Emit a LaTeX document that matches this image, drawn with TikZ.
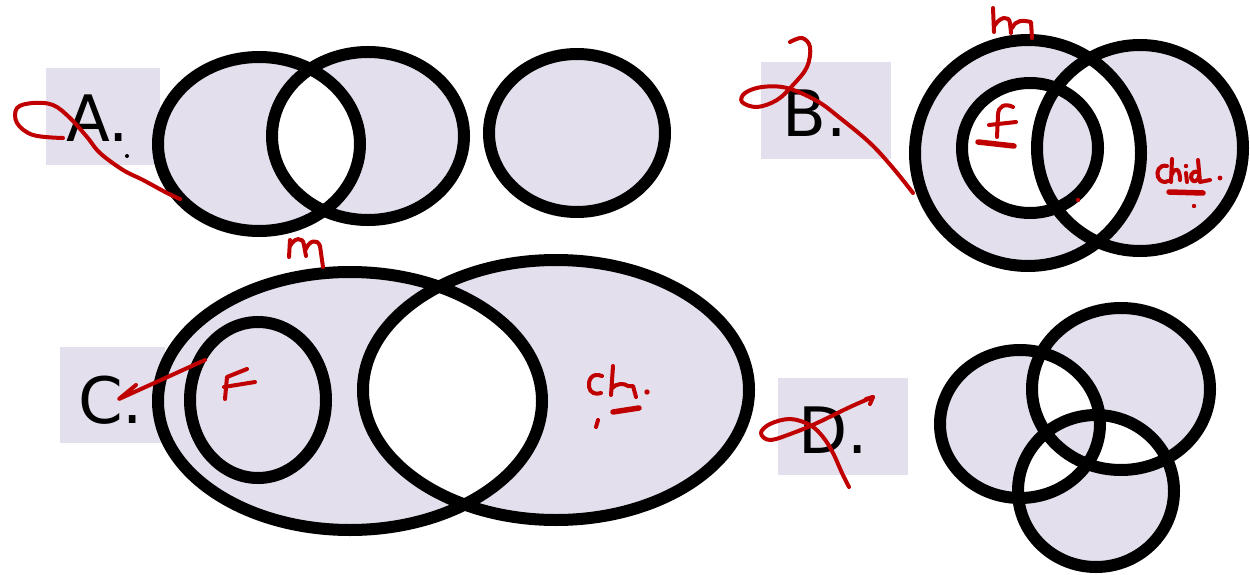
\documentclass[tikz,border=0pt]{standalone}
\usepackage{fontspec}
\setmainfont{DejaVu Sans}
\definecolor{lav}{HTML}{E4DFEC}
\definecolor{ink}{HTML}{C00000}
\begin{document}
\begin{tikzpicture}[x=1pt,y=-1pt,
  outline/.style={line width=12pt},
  shade/.style={fill=lav, even odd rule},
  labelbox/.style={fill=lav, inner sep=0pt},
  lettr/.style={anchor=base west, inner sep=0pt, font=\fontsize{64}{70}\selectfont},
  pen/.style={draw=ink, line width=4pt, line cap=round, line join=round},
  thickpen/.style={pen, line width=5.5pt}]
\useasboundingbox (0,0) rectangle (1250,575);

% label boxes
\node[labelbox, minimum width=114pt, minimum height=97pt] (boxA) at (103,116.5) {};
\node[labelbox, minimum width=130pt, minimum height=97pt] (boxB) at (826,110.5) {};
\node[labelbox, minimum width=105pt, minimum height=96pt] (boxC) at (112.5,395) {};
\node[labelbox, minimum width=130pt, minimum height=97pt] (boxD) at (843,426.5) {};
\node[lettr] (txtA) at (66,142) {A.};
\node[lettr] (txtB) at (782,137) {B.};
\node[lettr] (txtC) at (78,423) {C.};
\node[lettr] (txtD) at (798,453) {D.};

% A
\fill[shade] (259,144) ellipse [x radius=101pt, y radius=87pt]
             (368,136) ellipse [x radius=96pt, y radius=84pt];
\fill[lav] (577,133) ellipse [x radius=88pt, y radius=79pt];
\draw[outline] (259,144) ellipse [x radius=101pt, y radius=87pt];
\draw[outline] (368,136) ellipse [x radius=96pt, y radius=84pt];
\draw[outline] (577,133) ellipse [x radius=88pt, y radius=79pt];

% B
\fill[shade] (1028,153) circle [radius=113pt]
             (1140,148) circle [radius=103pt]
             (1030,148) ellipse [x radius=68pt, y radius=65pt];
\draw[outline] (1028,153) circle [radius=113pt];
\draw[outline] (1140,148) circle [radius=103pt];
\draw[outline] (1030,148) ellipse [x radius=68pt, y radius=65pt];

% C
\fill[shade] (350,401) ellipse [x radius=192pt, y radius=129pt]
             (556,390) ellipse [x radius=193pt, y radius=130pt];
\draw[outline] (350,401) ellipse [x radius=192pt, y radius=129pt];
\draw[outline] (556,390) ellipse [x radius=193pt, y radius=130pt];
\draw[outline] (258,400) ellipse [x radius=68pt, y radius=78pt];

% D
\fill[shade] (1020,424) ellipse [x radius=80pt, y radius=74pt]
             (1121,389) ellipse [x radius=89pt, y radius=81pt]
             (1096,491) ellipse [x radius=78pt, y radius=76pt];
\draw[outline] (1020,424) ellipse [x radius=80pt, y radius=74pt];
\draw[outline] (1121,389) ellipse [x radius=89pt, y radius=81pt];
\draw[outline] (1096,491) ellipse [x radius=78pt, y radius=76pt];

% small marks
\fill (127,156) circle [radius=2pt];
\fill[ink] (1078,200) circle [radius=2.2pt];

% red annotations
% A scribble
\draw[pen] plot[smooth, tension=0.6] coordinates {(63,138) (33,135) (17,123) (17,108) (33,103) (53,105) (70,118) (87,137) (100,153) (123,170) (143,180) (167,193) (180,199)};
% B scribble
\draw[pen] plot[smooth, tension=0.6] coordinates {(790,42) (802,38) (810,47) (807,67) (793,85) (777,100) (757,107) (742,102) (745,93) (762,87) (787,88) (817,101) (840,118) (870,143) (893,168) (913,193)};
% m above B
\draw[pen] (993,8) -- (994,32);
\draw[pen] (995,25) .. controls (1000,17) and (1009,15) .. (1010,23) -- (1011,33);
\draw[pen] (1012,28) .. controls (1016,20) and (1022,20) .. (1031,22) -- (1032,38);
% f in B
\draw[pen] (1013,107) .. controls (1005,103) and (998,106) .. (998,115) -- (997,137);
\draw[pen] (989,125) -- (1016,122);
\draw[thickpen] (978,142) -- (1014,146);
% child. in B
\draw[pen] (1167,166) .. controls (1159,164) and (1156,172) .. (1158,177) .. controls (1160,182) and (1165,183) .. (1168,181);
\draw[pen] (1172,159) -- (1171,182);
\draw[pen] (1172,174) .. controls (1175,167) and (1180,168) .. (1180,180);
\fill[ink] (1186,166) circle [radius=2.2pt];
\draw[pen] (1186,173) -- (1187,182);
\draw[pen] (1198,172) .. controls (1191,170) and (1189,178) .. (1193,181) .. controls (1196,182) and (1199,179) .. (1199,176);
\draw[pen] (1198,160) -- (1200,182) -- (1210,180);
\fill[ink] (1220,178) circle [radius=2.4pt];
\draw[thickpen] (1169,192) -- (1203,193);
\fill[ink] (1194,206) circle [radius=2.2pt];

% m above C
\draw[pen] (289,257) -- (290,240);
\draw[pen] (290,246) .. controls (294,238) and (303,236) .. (304,245) -- (306,256);
\draw[pen] (306,249) .. controls (309,241) and (317,238) .. (320,246) -- (323,267);
% C arrow
\draw[pen] (205,360) -- (119,399) -- (136,385);
% F in C
\draw[pen] (225,399) -- (227,377) -- (247,369);
\draw[pen] (224,387) -- (255,382);
% Ch. in C
\draw[pen] (602,376) .. controls (592,372) and (588,380) .. (589,387) .. controls (590,393) and (596,395) .. (601,393);
\draw[pen] (613,366) -- (611,395);
\draw[pen] (612,388) .. controls (617,383) and (624,383) .. (628,386) -- (633,386) -- (636,397);
\fill[ink] (647,392) circle [radius=2.7pt];
\draw[thickpen] (613,412) -- (639,408);
\draw[pen] (598,420) -- (596,427);
% D scribble
\draw[pen] plot[smooth, tension=0.6] coordinates {(873,397) (850,407) (817,423) (793,433) (770,440) (761,433) (770,424) (790,419) (810,425) (823,437) (833,453) (842,473) (849,487)};
\draw[pen] (866,399) -- (873,397) -- (870,404);
\end{tikzpicture}
\end{document}
